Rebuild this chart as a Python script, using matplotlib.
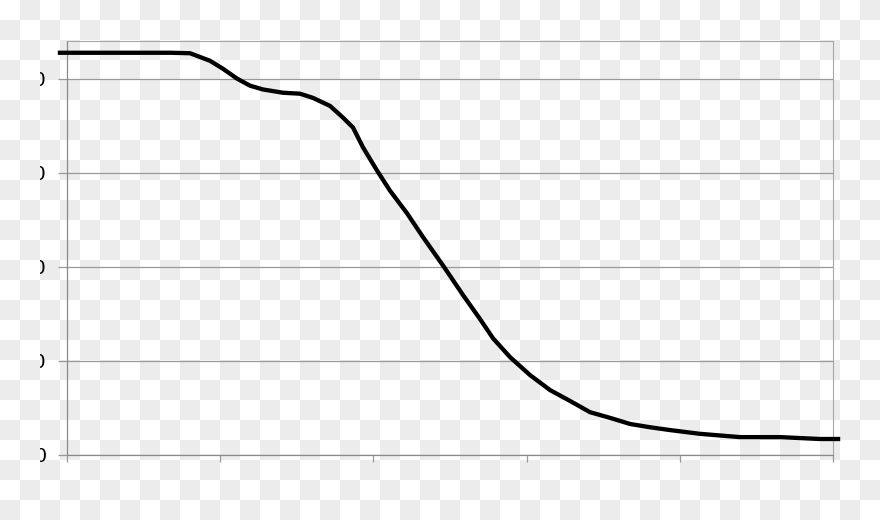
import numpy as np
import matplotlib
matplotlib.use("Agg")
import matplotlib.pyplot as plt
from matplotlib.transforms import Bbox, TransformedBbox, IdentityTransform

# ---------- Data ----------
x_vals = [-0.46, 2.15, 5.42, 6.72, 8.03, 9.33, 10.18, 11.10, 11.95, 12.79,
          14.10, 15.21, 16.06, 17.17, 18.02, 18.67, 19.32, 20.23, 21.08, 22.19,
          23.24, 24.54, 25.85, 26.96, 27.81, 28.92, 30.22, 31.53, 32.83, 34.14,
          35.44, 36.75, 38.05, 39.36, 41.32, 43.93, 46.54, 49.15, 50.33]
y_vals = [85.5, 85.5, 85.5, 85.5, 85.4, 83.8, 82.1, 80.0, 78.5, 77.7,
          77.0, 76.8, 75.9, 74.2, 71.7, 69.6, 65.4, 60.5, 56.2, 51.4,
          46.3, 40.3, 34.0, 28.9, 24.8, 20.8, 17.0, 13.8, 11.5, 9.1,
          7.9, 6.6, 5.9, 5.3, 4.5, 3.8, 3.8, 3.4, 3.4]
x_ticks = [0, 10, 20, 30, 40, 50]
y_ticks = [0, 20, 40, 60, 80]
y_labels = ["0", "20", "40", "60", "80"]

# ---------- Figure ----------
W, H, DPI = 880, 520, 100
fig = plt.figure(figsize=(W / DPI, H / DPI), dpi=DPI, facecolor="white")

# checkered "transparent" backdrop
yy, xx = np.mgrid[0:H, 0:W]
checker = np.where(((yy // 20) + (xx // 20)) % 2 == 0, 1.0, 0.925)
fig.figimage(checker, xo=0, yo=0, cmap="gray", vmin=0, vmax=1, zorder=-1)

ax = fig.add_axes([67 / W, 1 - 455 / H, (833 - 67) / W, (455 - 41) / H])
ax.set_facecolor("none")

ax.plot(x_vals, y_vals, color="black", lw=3.1, solid_joinstyle="round",
        clip_on=False, zorder=3)

ax.set_xlim(0, 50)
ax.set_ylim(0, 88)
ax.set_xticks(x_ticks)
ax.set_yticks(y_ticks)
ax.set_xticklabels([])
ax.set_yticklabels([])
ax.grid(axis="y", color="#9a9a9a", lw=0.9)
ax.tick_params(axis="y", direction="out", length=6.5, width=0.9, color="#9a9a9a")
ax.tick_params(axis="x", direction="out", length=5, width=0.9, color="#9a9a9a")

for side in ["left", "bottom"]:
    ax.spines[side].set_color("#8a8a8a")
    ax.spines[side].set_linewidth(0.9)
for side in ["top", "right"]:
    ax.spines[side].set_color("#a8a8a8")
    ax.spines[side].set_linewidth(0.8)

# y labels, only their right edge is visible in the reference
clip = TransformedBbox(Bbox([[40, 0], [W, H]]), IdentityTransform())
for val, lab in zip(y_ticks, y_labels):
    t = ax.text((45.5 - 67) / (833 - 67), val, lab, transform=ax.get_yaxis_transform(),
                ha="right", va="center_baseline", fontsize=15,
                family="Liberation Sans", color="black")
    t.set_clip_box(clip)
    t.set_clip_on(True)

fig.savefig("out.png", dpi=DPI)
